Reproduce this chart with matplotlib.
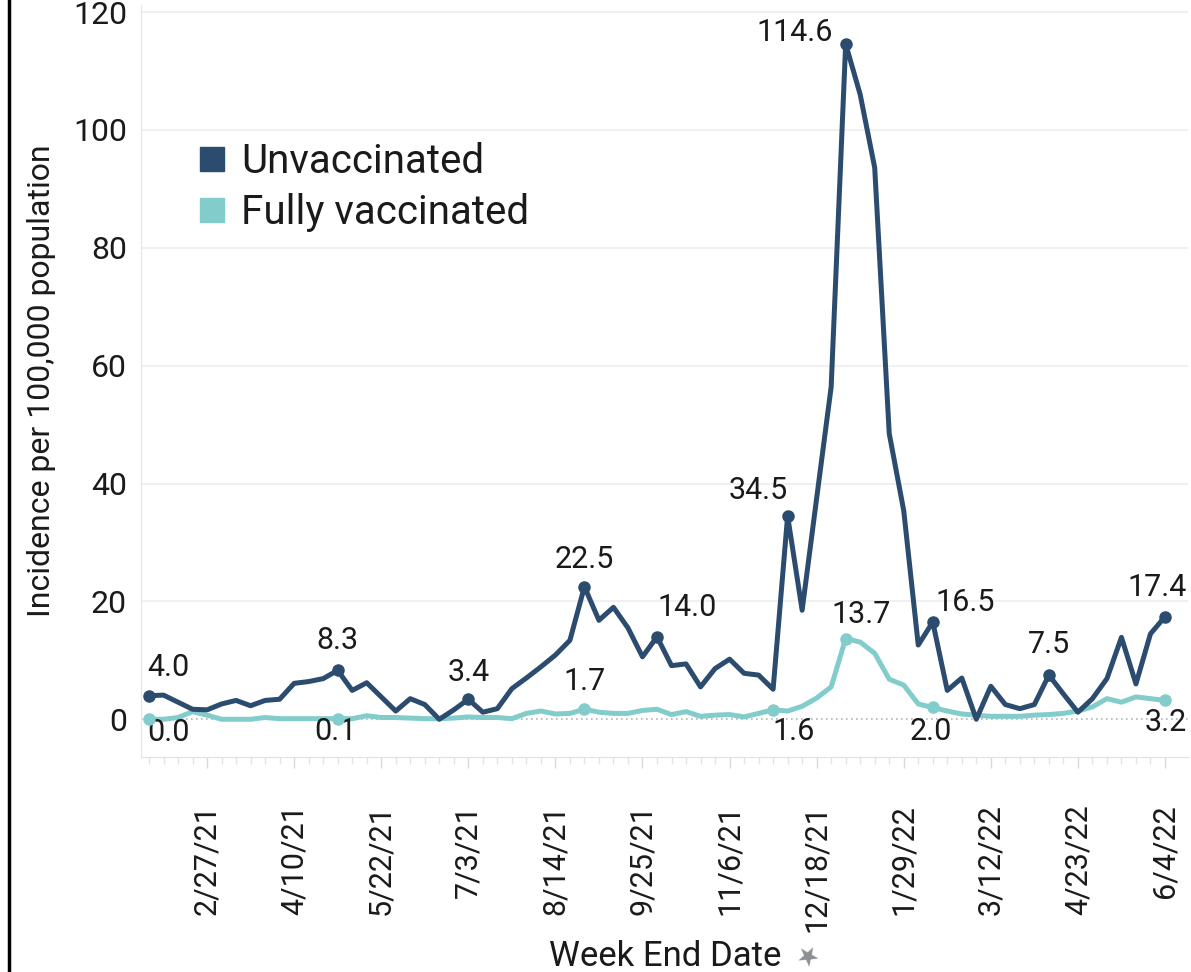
import numpy as np
import pandas as pd
import matplotlib
matplotlib.use("Agg")
import matplotlib.pyplot as plt
import matplotlib.dates as mdates
from matplotlib.lines import Line2D

plt.rcParams["font.family"] = ["Roboto", "DejaVu Sans"]

# weekly incidence per 100,000 population, week ending 1/30/21 ... 6/4/22
unvaccinated = [
    4.0, 4.1, 2.9, 1.7, 1.6, 2.6, 3.2, 2.3, 3.2, 3.4,
    6.1, 6.4, 6.9, 8.3, 4.9, 6.2, 3.8, 1.4, 3.5, 2.5,
    0.0, 1.6, 3.4, 1.2, 1.8, 5.2, 7.0, 8.9, 10.9, 13.4,
    22.5, 16.8, 19.0, 15.5, 10.6, 14.0, 9.1, 9.4, 5.5, 8.6,
    10.2, 7.8, 7.5, 5.1, 34.5, 18.5, 37.5, 56.4, 114.6, 106.0,
    93.6, 48.5, 35.4, 12.6, 16.5, 4.9, 7.0, 0.0, 5.6, 2.5,
    1.8, 2.5, 7.5, 4.3, 1.2, 3.5, 6.9, 13.9, 6.0, 14.5,
    17.4,
]
fully_vaccinated = [
    0.0, 0.0, 0.3, 1.3, 0.7, 0.0, 0.0, 0.0, 0.3, 0.1,
    0.1, 0.1, 0.1, 0.1, 0.1, 0.6, 0.3, 0.3, 0.2, 0.1,
    0.1, 0.2, 0.4, 0.3, 0.3, 0.1, 1.0, 1.4, 0.9, 1.0,
    1.7, 1.2, 1.0, 1.0, 1.5, 1.7, 0.8, 1.3, 0.5, 0.7,
    0.8, 0.4, 1.0, 1.6, 1.4, 2.2, 3.6, 5.5, 13.7, 13.1,
    11.2, 6.8, 5.8, 2.6, 2.0, 1.4, 0.9, 0.7, 0.5, 0.5,
    0.5, 0.7, 0.8, 1.0, 1.4, 2.1, 3.5, 2.9, 3.8, 3.5,
    3.2,
]
week_end = pd.date_range("2021-01-30", periods=len(unvaccinated), freq="7D")

tick_labels = ["2/27/21", "4/10/21", "5/22/21", "7/3/21", "8/14/21", "9/25/21",
               "11/6/21", "12/18/21", "1/29/22", "3/12/22", "4/23/22", "6/4/22"]
y_ticks = [0, 20, 40, 60, 80, 100, 120]

# labelled points
unvax_labelled = [0, 13, 22, 30, 35, 44, 48, 54, 62, 70]
vax_labelled = [0, 13, 30, 43, 48, 54, 70]

# label placement in pixels (dx, dy up, ha)
unvax_pos = {0: (19, 28, "center"), 13: (0, 30, "center"), 22: (0, 27, "center"),
             30: (0, 27, "center"), 35: (0, 29, "left"), 44: (0, 25, "right"),
             48: (-13, 11, "right"), 54: (3, 20, "left"), 62: (0, 31, "center"),
             70: (-8, 29, "center")}
vax_pos = {0: (19, -13, "center"), 13: (-2, -13, "center"), 30: (0, 28, "center"),
           43: (-1, -22, "left"), 48: (15, 24, "center"), 54: (-2, -24, "center"),
           70: (1, -22, "center")}

c_unvax = "#2b4c6e"
c_vax = "#82cccb"
txt = "#1a1a1a"
px = 0.72  # points per pixel at 100 dpi

W, H = 1191, 972
fig = plt.figure(figsize=(W / 100, H / 100), dpi=100)
ax = fig.add_axes([141 / W, 1 - 757 / H, (1188 - 141) / W, (757 - 5) / H])

x = mdates.date2num(week_end)
for v in y_ticks[1:]:
    ax.axhline(v, color="#ededed", lw=1.2, zorder=0)
ax.axhline(0, color="#b5b5b5", lw=1.2, ls=(0, (1, 2)), zorder=0)

ax.plot(x, fully_vaccinated, color=c_vax, lw=3.6, solid_joinstyle="round",
        solid_capstyle="round", zorder=2)
ax.plot(x, unvaccinated, color=c_unvax, lw=3.6, solid_joinstyle="round",
        solid_capstyle="round", zorder=3)

for i in unvax_labelled:
    ax.plot(x[i], unvaccinated[i], "o", color=c_unvax, ms=8, zorder=4)
    dx, dy, ha = unvax_pos[i]
    ax.annotate(f"{unvaccinated[i]:.1f}", (x[i], unvaccinated[i]), xytext=(dx * px, dy * px),
                textcoords="offset points", ha=ha, va="center", fontsize=22,
                color=txt, annotation_clip=False)
for i in vax_labelled:
    ax.plot(x[i], fully_vaccinated[i], "o", color=c_vax, ms=8, zorder=4)
    dx, dy, ha = vax_pos[i]
    ax.annotate(f"{fully_vaccinated[i]:.1f}", (x[i], fully_vaccinated[i]), xytext=(dx * px, dy * px),
                textcoords="offset points", ha=ha, va="center", fontsize=22,
                color=txt, annotation_clip=False)

ax.set_xlim(x[0] - 3.86, x[-1] + 11.1)
ax.set_ylim(-6.4, 121.2)

ax.set_yticks(y_ticks)
ax.set_yticklabels([str(v) for v in y_ticks])
ax.tick_params(axis="y", length=0, pad=10, labelsize=23, labelcolor=txt)

tick_pos = mdates.date2num(pd.to_datetime(tick_labels, format="%m/%d/%y"))
ax.set_xticks(tick_pos)
ax.set_xticklabels(tick_labels, rotation=90)
ax.set_xticks(x, minor=True)
ax.tick_params(axis="x", which="major", length=8, width=1, color="#d9d9d9",
               pad=26, labelsize=22, labelcolor=txt)
ax.tick_params(axis="x", which="minor", length=5, width=1, color="#e3e3e3")

for s in ["top", "right"]:
    ax.spines[s].set_visible(False)
ax.spines["left"].set_color("#e6e6e6")
ax.spines["bottom"].set_color("#e0e0e0")

ax.set_ylabel("Incidence per 100,000 population", fontsize=23, color=txt, labelpad=12)

fig.text(665 / W, 1 - 956 / H, "Week End Date", fontsize=25, color=txt,
         ha="center", va="center")
fig.text(806 / W, 1 - 958 / H, "\u2605", fontsize=19, color="#8a8f96",
         ha="center", va="center", rotation=-30)

handles = [Line2D([], [], marker="s", ls="none", ms=17, color=c_unvax),
           Line2D([], [], marker="s", ls="none", ms=17, color=c_vax)]
ax.legend(handles, ["Unvaccinated", "Fully vaccinated"], loc="upper left",
          bbox_to_anchor=((200 - 141) / 1047, (757 - 142) / 752), frameon=False,
          fontsize=29, handlelength=0.6, handletextpad=0.42, labelspacing=0.3,
          borderpad=0, borderaxespad=0, labelcolor=txt)

fig.add_artist(Line2D([8.5 / W, 8.5 / W], [0, 1], color="black", lw=2.5))

fig.savefig("out.png", dpi=100)
